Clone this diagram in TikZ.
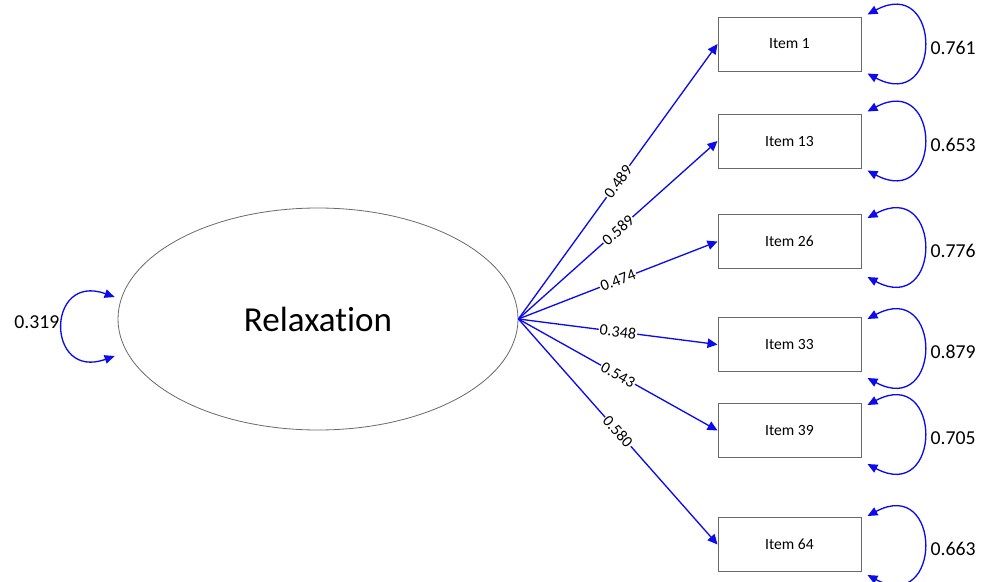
\documentclass[tikz,border=0pt]{standalone}
\usepackage{fontspec}
\setmainfont{Carlito}[Ligatures={NoCommon,NoContextual}]
\usetikzlibrary{arrows.meta,calc,shapes.geometric}
\definecolor{pathblue}{RGB}{12,12,235}
\definecolor{framegray}{RGB}{105,105,105}
\begin{document}
\begin{tikzpicture}[x=0.75pt,y=-0.75pt,
  latent/.style={ellipse,draw=framegray,line width=0.6pt,minimum width=300pt,
    minimum height=166.5pt,inner sep=0pt,font=\fontsize{26.3}{30}\selectfont},
  indicator/.style={rectangle,draw=framegray,line width=0.7pt,minimum width=107.25pt,
    minimum height=40.5pt,inner sep=0pt,font=\fontsize{11.7}{14}\selectfont},
  loading/.style={draw=pathblue,line width=1pt,-{Triangle[length=7.5pt,width=7pt]}},
  variance/.style={draw=pathblue,line width=1pt,
    {Triangle[length=7.5pt,width=6.5pt]}-{Triangle[length=7.5pt,width=6.5pt]}},
  coef/.style={font=\fontsize{12}{14}\selectfont,fill=white,inner sep=0.8pt,sloped,pos=0.5},
  varlabel/.style={font=\fontsize{14.8}{17}\selectfont,inner sep=0pt}
]
\useasboundingbox (0,0) rectangle (990,582);

% latent factor
\node[latent] (relax) at (318,319) {Relaxation};

% observed items
\node[indicator] (i1)  at (789.5,44)    {Item 1};
\node[indicator] (i13) at (789.5,141)   {Item 13};
\node[indicator] (i26) at (789.5,241.5) {Item 26};
\node[indicator] (i33) at (789.5,344.5) {Item 33};
\node[indicator] (i39) at (789.5,430.5) {Item 39};
\node[indicator] (i64) at (789.5,544.5) {Item 64};

% factor loadings
\draw[loading] (relax.east) -- node[coef] {0.489} (i1.west);
\draw[loading] (relax.east) -- node[coef] {0.589} (i13.west);
\draw[loading] (relax.east) -- node[coef] {0.474} (i26.west);
\draw[loading] (relax.east) -- node[coef] {0.348} (i33.west);
\draw[loading] (relax.east) -- node[coef] {0.543} (i39.west);
\draw[loading] (relax.east) -- node[coef] {0.580} (i64.west);

% factor variance
\draw[variance] ($(relax.west)+(-3,-22)$) .. controls +(-69,-25) and +(-69,25) .. ($(relax.west)+(-3,37)$);
\node[varlabel,anchor=east] (vrelax) at ($(relax.west)+(-58,3)$) {0.319};

% residual variances
\foreach \item/\shift/\val in {i1/0/0.761, i13/0/0.653, i26/6/0.776, i33/4/0.879, i39/4/0.705, i64/1/0.663}{
  \draw[variance] ($(\item.east)+(6,-29.5+\shift)$) .. controls +(75,-40) and +(75,40)
    .. ($(\item.east)+(6,29.5+\shift)$);
  \node[varlabel,anchor=west] (v\item) at ($(\item.east)+(69,\shift+3.5)$) {\val};
}
\end{tikzpicture}
\end{document}
